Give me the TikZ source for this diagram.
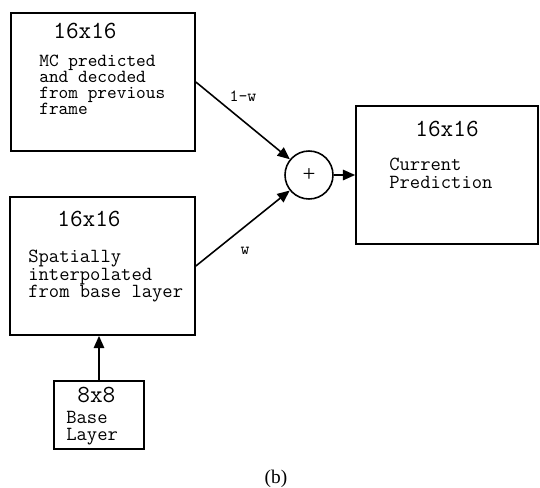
\documentclass[tikz,border=0pt]{standalone}
\usepackage{fontspec}
\setmainfont{Liberation Serif}
\usetikzlibrary{arrows.meta,positioning}

\begin{document}
\begin{tikzpicture}
      [x = 0.02cm, y = -0.02cm,
      box/.style= {
         draw,
         rectangle,
         line width = 1pt,
         inner sep = 0pt
      },
      size/.style= {
         anchor = base west,
         inner sep = 0pt,
         font = \fontsize{14}{16}\ttfamily
      },
      body/.style= {
         anchor = north west,
         inner sep = 0pt,
         align = left,
         font = \fontsize{11.4}{9.9}\ttfamily
      },
      weight/.style= {
         inner sep = 0pt,
         font = \fontsize{9.7}{11}\ttfamily
      },
      arrow/.style= {-{Triangle[length = 7pt, width = 6pt]}, line width = 0.9pt}]

      \useasboundingbox (0, 0) rectangle (540, 487);

      \node[box, minimum width = 3.68cm, minimum height = 2.76cm] (prev) at (103, 82) {};
      \node[box, minimum width = 3.70cm, minimum height = 2.76cm] (interp) at (102.5, 266) {};
      \node[box, minimum width = 3.64cm, minimum height = 2.76cm] (cur) at (447, 175) {};
      \node[box, minimum width = 1.80cm, minimum height = 1.36cm] (base) at (99, 415) {};
      \node[draw, circle, line width = 0.9pt, minimum size = 0.96cm, inner sep = 0pt,
            font = \fontsize{13}{15}\selectfont] (sum) at (309, 175) {+};

      \node[size] (prevsize) at (53, 38) {16x16};
      \node[body, font = \fontsize{10.5}{9}\ttfamily] (prevtext) at (39, 55)
         {MC predicted\\and decoded\\from previous\\frame};
      \node[size] (interpsize) at (57, 226) {16x16};
      \node[body] (interptext) at (28, 250) {Spatially\\interpolated\\from base layer};
      \node[size] (cursize) at (415, 136) {16x16};
      \node[body] (curtext) at (389, 158) {Current\\Prediction};
      \node[size] (basesize) at (77, 402) {8x8};
      \node[body] (basetext) at (66, 411) {Base\\Layer};

      \draw[arrow] (prev.east) -- (sum);
      \draw[arrow] (interp.east) -- (sum);
      \draw[arrow] (sum) -- (cur);
      \draw[arrow] (base) -- (base |- interp.south);

      \node[weight] (wprev) at (243, 96) {1-w};
      \node[weight] (winterp) at (245, 251) {w};

      \node[font = \fontsize{11}{13}\selectfont] (caption) at (276, 479) {(b)};

   \end{tikzpicture}
\end{document}
